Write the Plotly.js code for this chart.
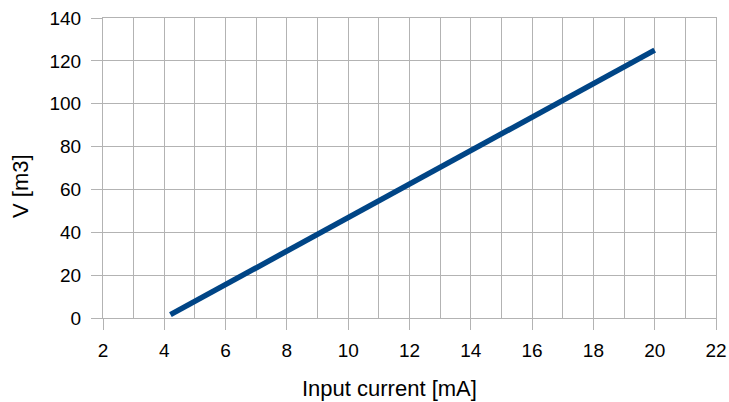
<!DOCTYPE html>
<html>
<head>
<meta charset="utf-8">
<script src="https://cdn.plot.ly/plotly-3.0.1.min.js"></script>
<style>html,body{margin:0;padding:0;background:#fff;}#chart{width:729px;height:402px;}</style>
</head>
<body>
<div id="chart"></div>
<script>
const currentMA = [4.2, 20];
const volumeM3 = [1.56, 125];
const xTickVals = [2, 4, 6, 8, 10, 12, 14, 16, 18, 20, 22];
const yTickVals = [0, 20, 40, 60, 80, 100, 120, 140];
const xTitle = 'Input current [mA]';
const yTitle = 'V [m3]';

const trace = {
  x: currentMA, y: volumeM3, type: 'scatter', mode: 'lines',
  line: {color: '#004586', width: 5.5}, hoverinfo: 'skip'
};
const FAM = 'Liberation Sans, Arial, sans-serif';
const axisFont = {family: FAM, size: 19, color: '#000'};
const titleFont = {family: FAM, size: 22, color: '#000'};
const layout = {
  width: 729, height: 402,
  margin: {l: 103, r: 13, t: 18, b: 84},
  paper_bgcolor: '#fff', plot_bgcolor: '#fff',
  showlegend: false,
  xaxis: {
    range: [2, 22], tickvals: xTickVals, ticks: 'outside', ticklen: 11, tickcolor: '#b3b3b3',
    ticklabelstandoff: 4,
    showgrid: true, gridcolor: '#b3b3b3', gridwidth: 1,
    minor: {dtick: 1, tick0: 0, showgrid: true, gridcolor: '#b3b3b3', gridwidth: 1, ticks: ''},
    showline: true, linecolor: '#b3b3b3', mirror: true, zeroline: false,
    tickfont: axisFont
  },
  yaxis: {
    range: [0, 140], tickvals: yTickVals, ticks: 'outside', ticklen: 11, tickcolor: '#b3b3b3',
    ticklabelstandoff: 6,
    showgrid: true, gridcolor: '#b3b3b3', gridwidth: 1,
    showline: true, linecolor: '#b3b3b3', mirror: true, zeroline: false,
    tickfont: axisFont
  },
  annotations: [
    {text: xTitle, xref: 'paper', yref: 'paper', x: (389 - 103) / 613, y: -(388 - 318) / 300,
     xanchor: 'center', yanchor: 'middle', showarrow: false, font: titleFont},
    {text: yTitle, xref: 'paper', yref: 'paper', x: -(103 - 20) / 613, y: (318 - 186) / 300,
     xanchor: 'center', yanchor: 'middle', textangle: -90, showarrow: false, font: titleFont}
  ]
};
Plotly.newPlot('chart', [trace], layout, {staticPlot: true, displayModeBar: false});
</script>
</body>
</html>
